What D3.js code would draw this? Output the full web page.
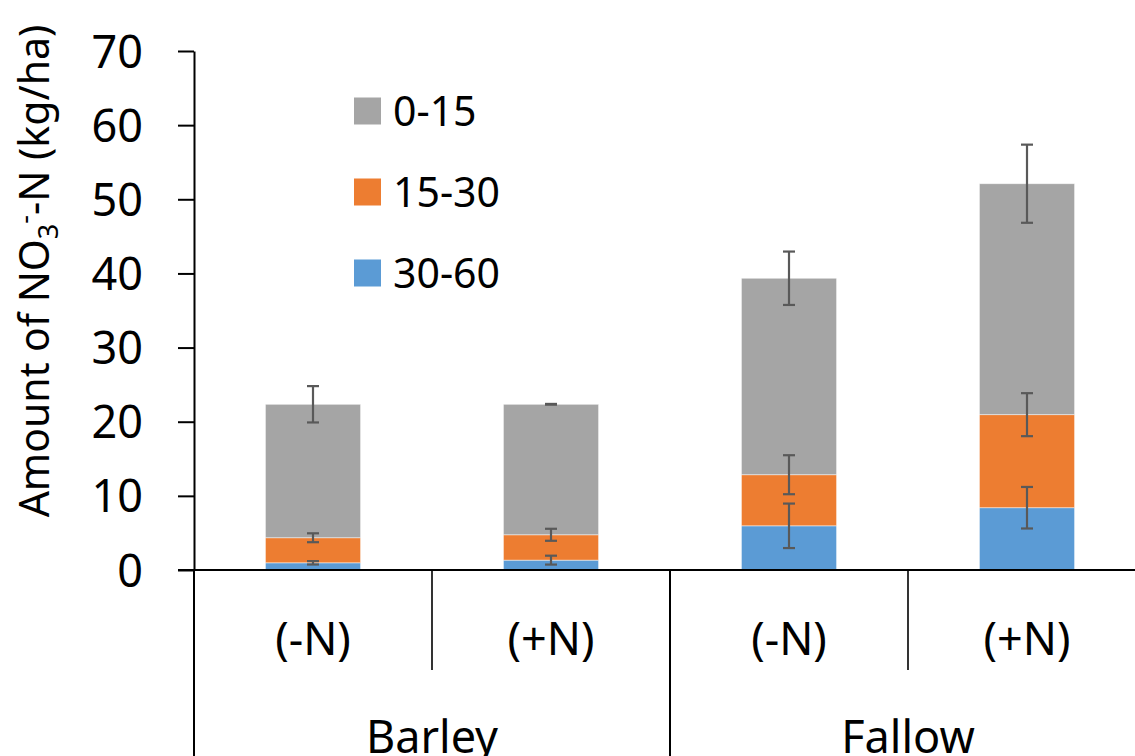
<!DOCTYPE html>
<html>
<head>
<meta charset="utf-8">
<script src="https://cdn.jsdelivr.net/npm/d3@7"></script>
<style>
  html, body { margin: 0; padding: 0; background: #fff; }
  svg { display: block; font-family: "Noto Sans", "Open Sans", sans-serif; }
</style>
</head>
<body>
<svg id="chart" width="1135" height="756"></svg>
<script>
// Soil nitrate-N by depth (cm), stacked per crop/treatment
const groups = ["Barley", "Fallow"];
const treatments = ["(-N)", "(+N)"];
const depths = ["0-15", "15-30", "30-60"];
const depthColors = ["#A5A5A5", "#ED7D31", "#5B9BD5"];

// Segment values in kg/ha, order: Barley(-N), Barley(+N), Fallow(-N), Fallow(+N)
const nitrate30_60 = [0.97, 1.33, 5.96, 8.40];
const nitrate15_30 = [3.38, 3.42, 6.89, 12.55];
const nitrate0_15 = [18.0, 17.6, 26.5, 31.15];

// Standard errors for each segment
const err30_60 = [0.23, 0.60, 3.00, 2.80];
const err15_30 = [0.60, 0.81, 2.63, 2.90];
const err0_15 = [2.45, 0.05, 3.60, 5.27];

const yTicks = [0, 10, 20, 30, 40, 50, 60, 70];

const svg = d3.select("#chart");

const plotLeft = 194, plotTop = 51, plotBottom = 570;
const cellStep = 238;
const cells = [];
groups.forEach(g => treatments.forEach(t => cells.push(g + "|" + t)));

const x = d3.scaleBand().domain(cells).range([plotLeft, plotLeft + cellStep * cells.length]).padding(0);
const barW = x.bandwidth() * 0.4;
const y = d3.scaleLinear().domain([0, 70]).range([plotBottom, plotTop]);

// stack from the bottom: deepest layer first
const layers = [
  { name: "30-60", color: depthColors[2], vals: nitrate30_60, err: err30_60 },
  { name: "15-30", color: depthColors[1], vals: nitrate15_30, err: err15_30 },
  { name: "0-15", color: depthColors[0], vals: nitrate0_15, err: err0_15 }
];
const rows = cells.map((c, i) => ({ cell: c, "30-60": nitrate30_60[i], "15-30": nitrate15_30[i], "0-15": nitrate0_15[i] }));
const stacked = d3.stack().keys(layers.map(l => l.name))(rows);

const barsG = svg.append("g");
stacked.forEach((s, li) => {
  barsG.selectAll(null).data(s).enter().append("rect")
    .attr("x", d => x(d.data.cell) + (x.bandwidth() - barW) / 2)
    .attr("y", d => y(d[1]))
    .attr("width", barW)
    .attr("height", d => y(d[0]) - y(d[1]))
    .attr("fill", layers[li].color)
    .attr("stroke", "#ffffff")
    .attr("stroke-opacity", 0.6)
    .attr("stroke-width", 0.8);
});

// error bars at the top of each segment
const errG = svg.append("g").attr("stroke", "#595959").attr("stroke-width", 2.2).attr("fill", "none");
stacked.forEach((s, li) => {
  s.forEach((d, i) => {
    const cx = x(d.data.cell) + x.bandwidth() / 2;
    const e = layers[li].err[i];
    const y1 = y(d[1] + e), y2 = y(d[1] - e);
    errG.append("line").attr("x1", cx).attr("x2", cx).attr("y1", y1).attr("y2", y2);
    errG.append("line").attr("x1", cx - 6).attr("x2", cx + 6).attr("y1", y1).attr("y2", y1);
    errG.append("line").attr("x1", cx - 6).attr("x2", cx + 6).attr("y1", y2).attr("y2", y2);
  });
});

// y axis
const yAxis = svg.append("g")
  .attr("transform", `translate(${plotLeft},0)`)
  .call(d3.axisLeft(y).tickValues(yTicks).tickSize(16).tickSizeOuter(0).tickPadding(35));
yAxis.select(".domain").attr("stroke", "#000").attr("stroke-width", 2);
yAxis.selectAll(".tick line").attr("stroke", "#000").attr("stroke-width", 2);
yAxis.selectAll(".tick text")
  .attr("font-size", 45)
  .attr("font-family", "Noto Sans, sans-serif")
  .attr("fill", "#000")
  .attr("dy", "0.357em");

// x axis line and the two-level category frame
const xEnd = plotLeft + cellStep * cells.length;
svg.append("line").attr("x1", plotLeft - 16).attr("x2", xEnd).attr("y1", plotBottom).attr("y2", plotBottom)
  .attr("stroke", "#000").attr("stroke-width", 2);

// long dividers between the groups (including the left edge)
[0, 2, 4].forEach(k => {
  const xx = plotLeft + cellStep * k;
  svg.append("line").attr("x1", xx).attr("x2", xx).attr("y1", plotBottom).attr("y2", 756)
    .attr("stroke", "#000").attr("stroke-width", 2);
});
// short dividers between treatments
[1, 3].forEach(k => {
  const xx = plotLeft + cellStep * k;
  svg.append("line").attr("x1", xx).attr("x2", xx).attr("y1", plotBottom).attr("y2", 670)
    .attr("stroke", "#000").attr("stroke-width", 1.6);
});

// treatment labels
svg.append("g").selectAll("text").data(cells).enter().append("text")
  .attr("x", d => x(d) + x.bandwidth() / 2)
  .attr("y", 655)
  .attr("text-anchor", "middle")
  .attr("font-size", 45)
  .attr("fill", "#000")
  .text(d => d.split("|")[1]);

// group labels
svg.append("g").selectAll("text").data(groups).enter().append("text")
  .attr("x", (d, i) => plotLeft + cellStep * (2 * i + 1))
  .attr("y", 753)
  .attr("text-anchor", "middle")
  .attr("font-size", 45)
  .attr("fill", "#000")
  .text(d => d);

// y axis title with NO3- sub/superscript
const title = svg.append("text")
  .attr("transform", "translate(49,271) rotate(-90)")
  .attr("text-anchor", "middle")
  .attr("font-size", 41)
  .attr("fill", "#000");
title.append("tspan").text("Amount of NO");
title.append("tspan").attr("font-size", 27).attr("dy", 9).text("3");
title.append("tspan").attr("font-size", 27).attr("dy", -24).text("-");
title.append("tspan").attr("dy", 15).text("-N (kg/ha)");

// legend
const legend = svg.append("g");
depths.forEach((name, i) => {
  const cy = 111 + i * 81;
  legend.append("rect").attr("x", 354).attr("y", cy - 13.5).attr("width", 27).attr("height", 27)
    .attr("fill", depthColors[i]);
  legend.append("text").attr("x", 393).attr("y", cy + 14.6)
    .attr("font-size", 41).attr("fill", "#000").text(name);
});
</script>
</body>
</html>
